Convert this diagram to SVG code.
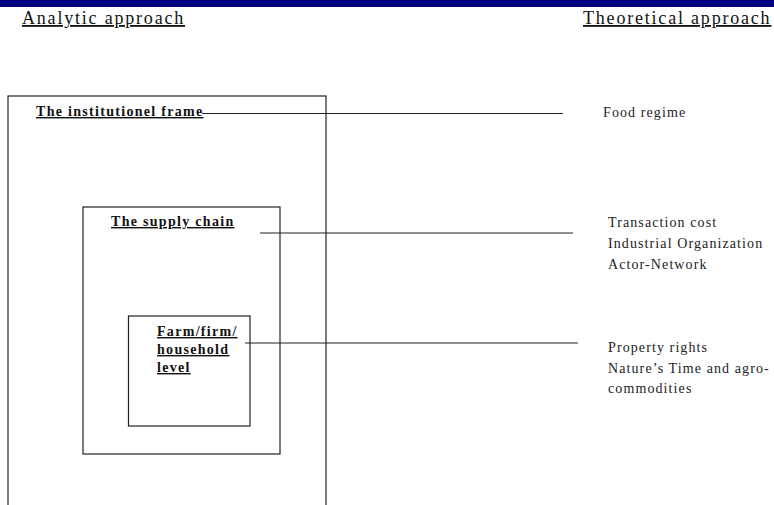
<svg xmlns="http://www.w3.org/2000/svg" width="774" height="505" viewBox="0 0 774 505">
<style>
.hdr{font-family:"Liberation Serif","Times New Roman",serif;font-size:18px;letter-spacing:1.8px;fill:#111;text-decoration:underline}
.lbl{font-family:"Liberation Serif","Times New Roman",serif;font-size:14px;font-weight:bold;letter-spacing:1.3px;fill:#111;text-decoration:underline}
.th{font-family:"Liberation Serif","Times New Roman",serif;font-size:14px;letter-spacing:1.1px;fill:#222}
.box{fill:#fff;stroke:#222;stroke-width:1.2}
.con{stroke:#222;stroke-width:1.2;fill:none}
</style>
<rect x="0" y="0" width="774" height="505" fill="#fff"/>
<rect x="0" y="0" width="774" height="7" fill="#000080"/>
<text class="hdr" x="22" y="24">Analytic approach</text>
<text class="hdr" x="583" y="24">Theoretical approach</text>
<g id="institutional-frame">
<rect class="box" x="8" y="96" width="318" height="420"/>
<text class="lbl" x="36" y="116">The institutionel frame</text>
</g>
<g id="supply-chain">
<rect class="box" x="83" y="207" width="197" height="247"/>
<text class="lbl" x="111" y="226">The supply chain</text>
</g>
<g id="farm-level">
<rect class="box" x="128.5" y="316" width="121.5" height="110"/>
<text class="lbl" x="157" y="336">Farm/firm/</text>
<text class="lbl" x="157" y="354">household</text>
<text class="lbl" x="157" y="372">level</text>
</g>
<g id="connectors">
<line class="con" x1="202" y1="113.5" x2="563" y2="113.5"/>
<line class="con" x1="260" y1="233" x2="573" y2="233"/>
<line class="con" x1="245" y1="343" x2="578" y2="343"/>
</g>
<g id="food-regime">
<text class="th" x="603" y="117">Food regime</text>
</g>
<g id="supply-theories">
<text class="th" x="608" y="227">Transaction cost</text>
<text class="th" x="608" y="248">Industrial Organization</text>
<text class="th" x="608" y="269">Actor-Network</text>
</g>
<g id="farm-theories">
<text class="th" x="608" y="352">Property rights</text>
<text class="th" x="608" y="373">Nature’s Time and agro-</text>
<text class="th" x="608" y="393">commodities</text>
</g>
</svg>
